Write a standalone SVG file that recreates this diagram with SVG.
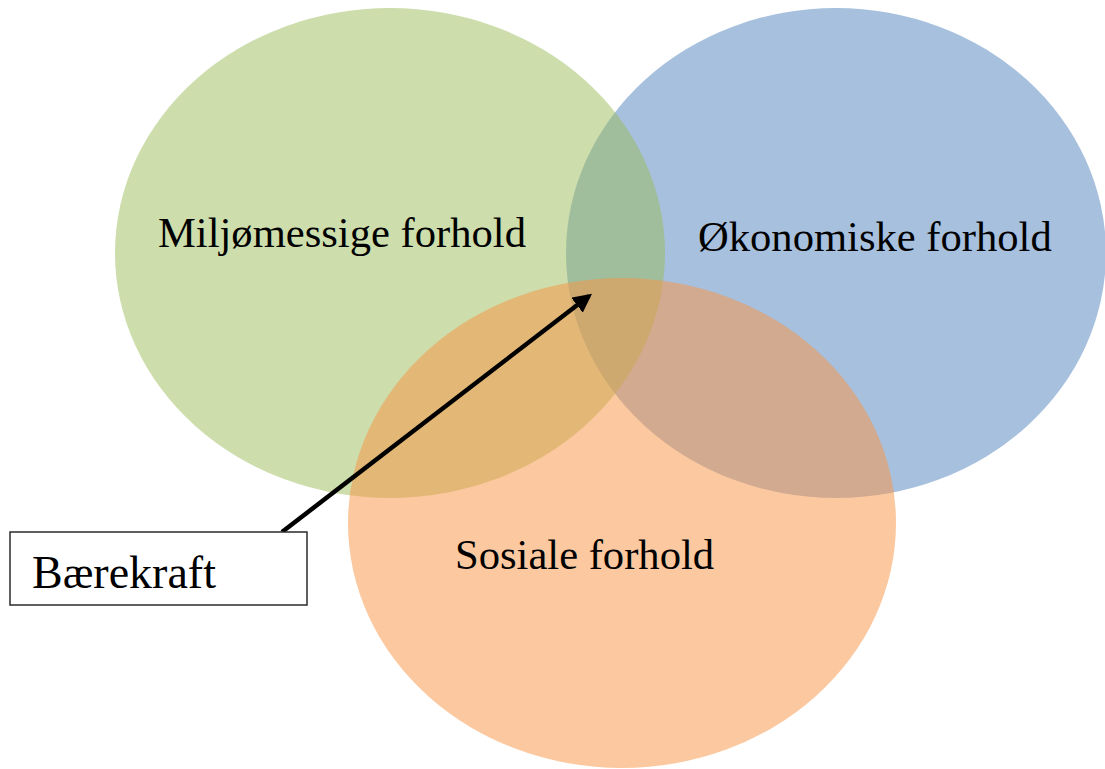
<svg xmlns="http://www.w3.org/2000/svg" width="1105" height="769" viewBox="0 0 1105 769">
  <style>
    .lbl { font-family: "Liberation Serif", "Times New Roman", serif; font-size: 42.6px; fill: #000; }
    .box { fill: #ffffff; stroke: #2b2b2b; stroke-width: 1.5; }
    .conn { stroke: #000; stroke-width: 4.5; fill: none; }
  </style>
  <defs>
    <marker id="arrow" viewBox="0 0 10 10" refX="8" refY="5" markerWidth="4.2" markerHeight="4.2" orient="auto" markerUnits="strokeWidth">
      <path d="M0,0 L10,5 L0,10 Z" fill="#000"/>
    </marker>
  </defs>
  <rect width="1105" height="769" fill="#ffffff"/>
  <g id="okonomiske">
    <ellipse cx="836" cy="253" rx="270" ry="245" fill="#4F81BD" fill-opacity="0.5"/>
  </g>
  <g id="miljo">
    <ellipse cx="390" cy="253" rx="275" ry="245" fill="#9BBB59" fill-opacity="0.5"/>
  </g>
  <g id="sosiale">
    <ellipse cx="622" cy="523" rx="274" ry="245" fill="#F79646" fill-opacity="0.52"/>
  </g>
  <g id="labels">
    <text class="lbl" x="158" y="247">Miljømessige forhold</text>
    <text class="lbl" x="698" y="251">Økonomiske forhold</text>
    <text class="lbl" x="455" y="569">Sosiale forhold</text>
  </g>
  <g id="connectors">
    <line class="conn" x1="282" y1="532" x2="589" y2="296" marker-end="url(#arrow)"/>
  </g>
  <g id="baerekraft">
    <rect class="box" x="10" y="532" width="297" height="73"/>
    <text class="lbl" x="32" y="588" style="font-size:46px">Bærekraft</text>
  </g>
</svg>
